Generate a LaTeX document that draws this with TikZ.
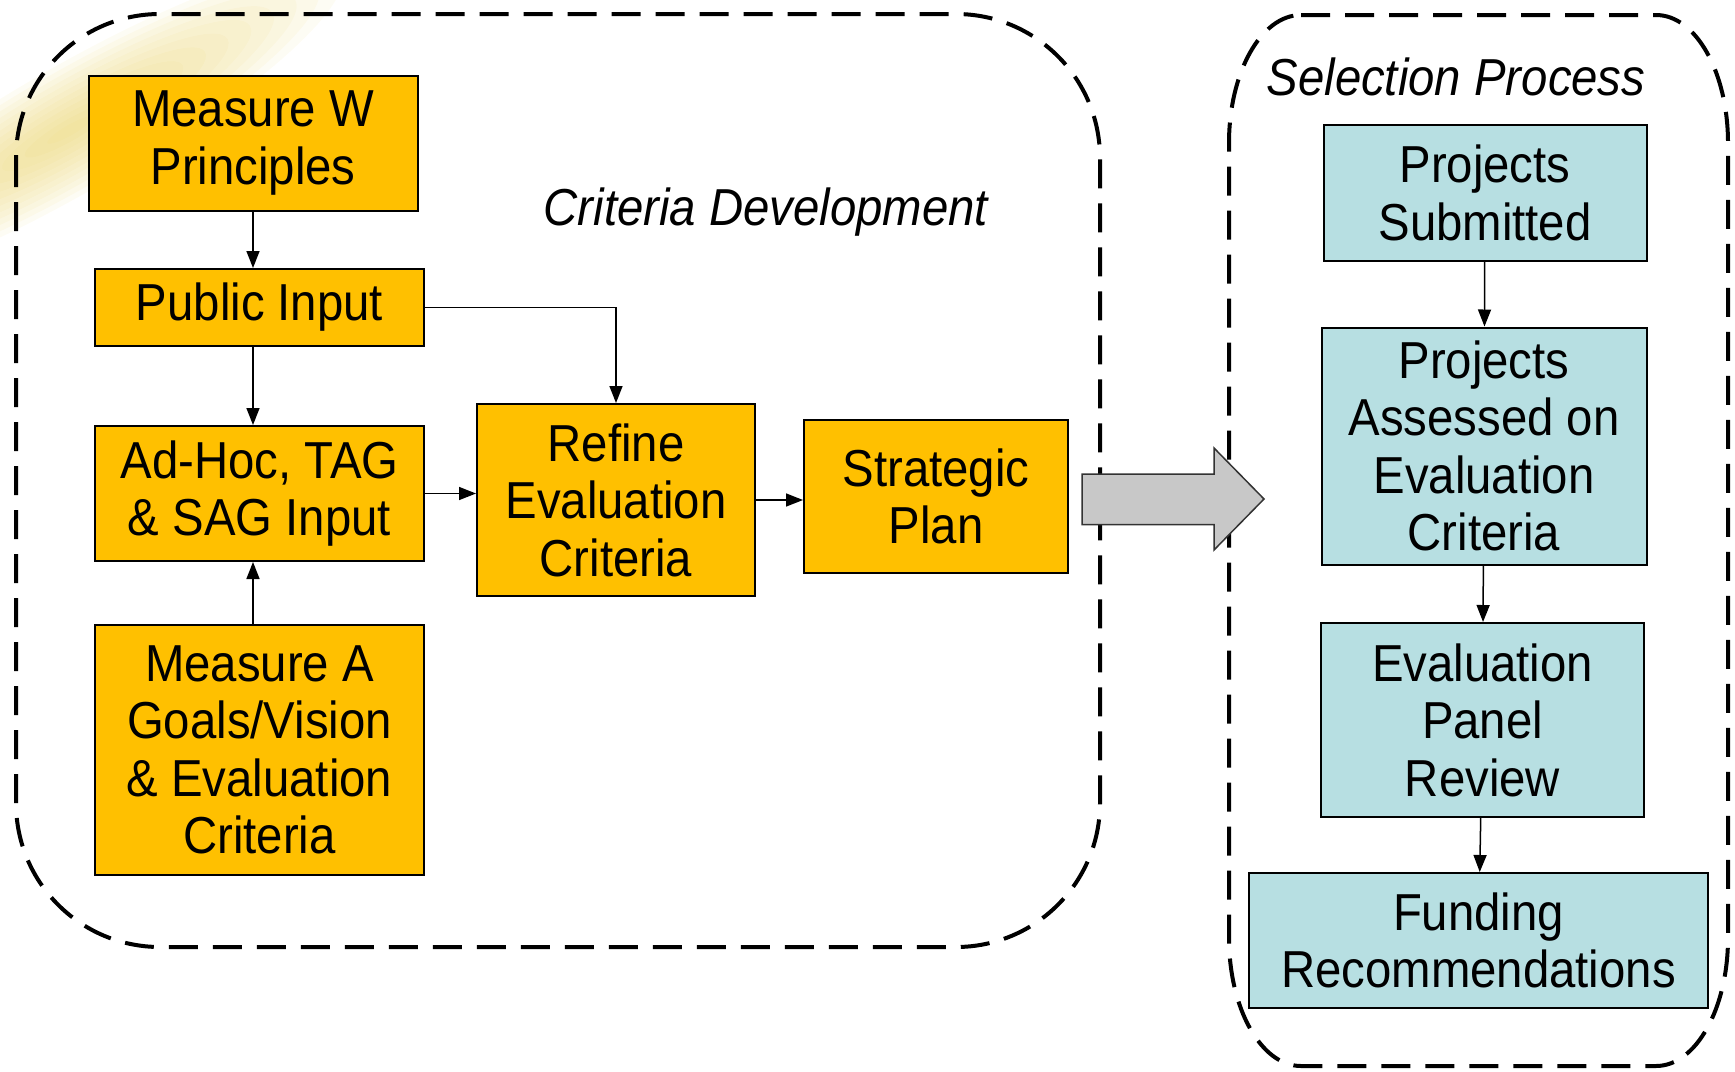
\documentclass[tikz,border=0pt]{standalone}
\usepackage{fontspec}
\setmainfont{Liberation Sans}[FakeStretch=0.91]
\usetikzlibrary{arrows.meta,positioning}
\definecolor{critgold}{HTML}{FFC000}
\definecolor{selblue}{HTML}{B7DFE2}
\definecolor{bigarrow}{HTML}{C8C8C8}
\definecolor{glowyellow}{HTML}{E8D060}

\begin{document}
\begin{tikzpicture}[x=0.5pt, y=-0.5pt,
			critstep/.style={rectangle, draw=black, line width=1pt, fill=critgold, inner sep=0pt, align=center, font=\fontsize{26}{28.75}\selectfont},
			selstep/.style={critstep, fill=selblue},
			arrow/.style={line width=0.75pt, -{Triangle[length=8.5pt, width=6.5pt]}},
			groupline/.style={line width=2pt, dash pattern=on 14.5pt off 7.5pt},
			grouptitle/.style={font=\fontsize{26}{28.75}\selectfont\itshape}
		]
		\useasboundingbox (0,0) rectangle (1735,1071);

		\foreach \k in {1,...,12}
			\fill [glowyellow, opacity=0.07, rotate around={30:(70,130)}] (70,130) ellipse [x radius=\k*13pt, y radius=\k*2.6pt];

		\draw [groupline, rounded corners=72pt] (16,14) rectangle (1100,947);
		\draw [groupline] (1301,15) -- (1656,15) arc[start angle=90, end angle=0, x radius=36pt, y radius=64pt]
			-- (1728,938) arc[start angle=0, end angle=-90, x radius=36pt, y radius=64pt]
			-- (1301,1066) arc[start angle=270, end angle=180, x radius=36pt, y radius=64pt]
			-- (1229,143) arc[start angle=180, end angle=90, x radius=36pt, y radius=64pt] -- cycle;

		\node (critlabel) [grouptitle] at (766,212) {Criteria Development};
		\node (sellabel)  [grouptitle] at (1456,77) {Selection Process};

		\node (measw)  [critstep, minimum width=164.5pt, minimum height=67.5pt] at (253,143)   {Measure W \\ Principles};
		\node (public) [critstep, minimum width=164.5pt, minimum height=38.5pt] at (259.5,307.5) {Public Input};
		\node (adhoc)  [critstep, minimum width=164.5pt, minimum height=67.5pt] at (259.5,493.5) {Ad-Hoc, TAG \\ \& SAG Input};
		\node (measa)  [critstep, minimum width=164.5pt, minimum height=125pt]  at (259.5,750)  {Measure A \\ Goals/Vision \\ \& Evaluation \\ Criteria};
		\node (refine) [critstep, minimum width=139pt, minimum height=96pt]     at (616,500)    {Refine \\ Evaluation \\ Criteria};
		\node (strat)  [critstep, minimum width=132pt, minimum height=76.5pt]   at (936,496.5)  {Strategic \\ Plan};

		\node (submit) [selstep, minimum width=161.5pt, minimum height=68pt]    at (1485,193)   {Projects \\ Submitted};
		\node (assess) [selstep, minimum width=162.5pt, minimum height=118.5pt] at (1484,446)   {Projects \\ Assessed on \\ Evaluation \\ Criteria};
		\node (panel)  [selstep, minimum width=161.5pt, minimum height=97pt]    at (1482.5,720) {Evaluation \\ Panel \\ Review};
		\node (fund)   [selstep, minimum width=229.5pt, minimum height=67.5pt]  at (1478.5,940.5) {Funding \\ Recommendations};

		\draw [arrow] (measw.south) -- (measw.south |- public.north);
		\draw [arrow] (public.south -| measw.south) -- (adhoc.north -| measw.south);
		\draw [arrow] (measa.north -| measw.south) -- (adhoc.south -| measw.south);
		\draw [arrow] (public.east) -| (refine.north);
		\draw [arrow] (adhoc.east) -- (adhoc.east -| refine.west);
		\draw [arrow] (refine.east) -- (refine.east -| strat.west);

		\draw [arrow] (submit) -- (assess);
		\draw [arrow] (assess) -- (panel);
		\draw [arrow] (panel) -- (fund);

		\draw [fill=bigarrow, draw=black!80, line width=0.75pt] (1082,474) -- (1214,474) -- (1214,448) -- (1264,499)
			-- (1214,550) -- (1214,524.5) -- (1082,524.5) -- cycle;

	\end{tikzpicture}
\end{document}
